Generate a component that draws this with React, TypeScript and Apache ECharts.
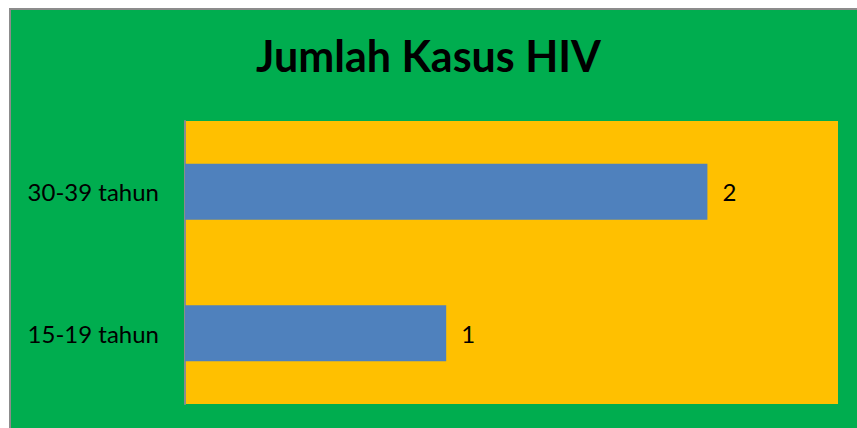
import React, { useEffect, useRef } from "react";
import * as echarts from "echarts";

const categories = ["15-19 tahun", "30-39 tahun"];
const values = [1, 2];
const titleText = "Jumlah Kasus HIV";

export default function App() {
  const ref = useRef<HTMLDivElement>(null);
  useEffect(() => {
    document.body.style.margin = "0";
    const chart = echarts.init(ref.current!, null, { renderer: "svg" });
    chart.setOption({
      animation: false,
      backgroundColor: "#ffffff",
      graphic: [
        {
          type: "rect",
          z: -10,
          silent: true,
          shape: { x: 10, y: 9, width: 860, height: 430 },
          style: { fill: "#00AD4F", stroke: "#8C8C8C", lineWidth: 2 },
        },
      ],
      title: {
        text: titleText,
        left: "center",
        top: 29,
        textStyle: {
          fontFamily: "Lato",
          fontWeight: "bold",
          fontSize: 43,
          color: "#000000",
        },
      },
      grid: {
        left: 185,
        right: 19,
        top: 121,
        bottom: 24,
        show: true,
        backgroundColor: "#FFC000",
        borderWidth: 0,
      },
      xAxis: {
        type: "value",
        min: 0,
        max: 2.5,
        show: false,
        splitLine: { show: false },
      },
      yAxis: {
        type: "category",
        data: categories,
        axisLine: { show: true, lineStyle: { color: "#8C8C8C", width: 2 } },
        axisTick: { show: false },
        axisLabel: {
          margin: 26,
          fontFamily: "Lato",
          fontSize: 24,
          color: "#000000",
        },
      },
      series: [
        {
          type: "bar",
          data: values,
          barWidth: 56,
          itemStyle: { color: "#4F81BD" },
          label: {
            show: true,
            position: "right",
            distance: 15,
            fontFamily: "Lato",
            fontSize: 24,
            color: "#000000",
          },
        },
      ],
    });
    return () => chart.dispose();
  }, []);
  return <div ref={ref} style={{ width: 857, height: 428 }} />;
}
